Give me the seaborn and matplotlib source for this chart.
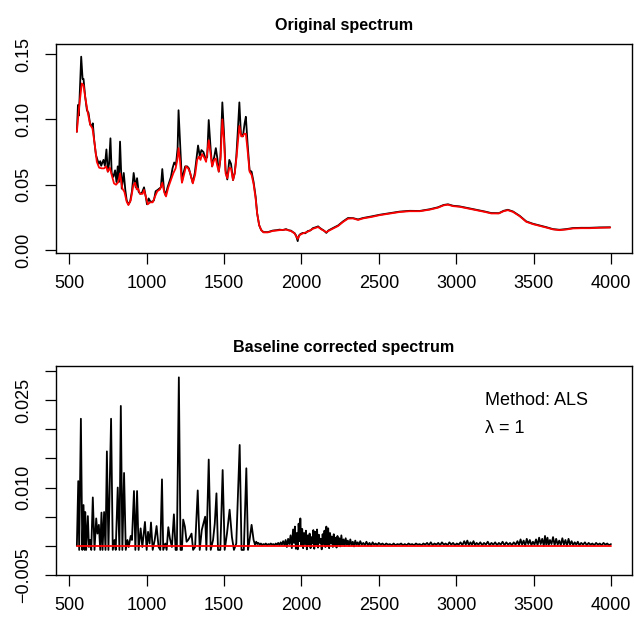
import matplotlib
matplotlib.use("Agg")
import matplotlib.pyplot as plt
import seaborn as sns

# ---- top panel: original spectrum (black) and ALS baseline (red) ----
orig_x = [549, 556, 562, 577, 586, 592, 603, 614, 624, 635, 646, 652, 661, 672, 682,
          691, 700, 706, 721, 730, 740, 749, 757, 766, 774, 785, 796, 805, 813, 820,
          828, 839, 852, 862, 871, 882, 893, 905, 916, 929, 938, 948, 959, 970, 983,
          994, 1002, 1013, 1024, 1036, 1047, 1058, 1071, 1082, 1092, 1101, 1112, 1122,
          1135, 1146, 1157, 1167, 1178, 1189, 1200, 1206, 1215, 1228, 1238, 1249, 1262,
          1273, 1285, 1298, 1311, 1322, 1332, 1343, 1354, 1367, 1380, 1391, 1401, 1414,
          1423, 1436, 1447, 1457, 1466, 1476, 1489, 1500, 1510, 1521, 1534, 1545, 1558,
          1569, 1579, 1588, 1599, 1609, 1622, 1633, 1641, 1652, 1665, 1678, 1691,
          1704, 1714, 1727, 1740, 1755, 1783, 1815, 1840, 1858, 1880, 1901, 1915, 1933,
          1945, 1955, 1965, 1976, 1982, 1989, 1998, 2009, 2025, 2041, 2058, 2075, 2090,
          2108, 2118, 2129, 2145, 2161, 2175, 2194, 2215, 2237, 2269, 2301, 2334, 2366,
          2398, 2452, 2506, 2570, 2635, 2699, 2764, 2829, 2882, 2919, 2947, 2979, 3022,
          3076, 3130, 3184, 3227, 3276, 3306, 3334, 3367, 3410, 3453, 3496, 3539, 3582,
          3625, 3668, 3711, 3754, 3808, 3862, 3926, 3995]
orig_y = [0.0905, 0.111, 0.103, 0.148, 0.131, 0.131, 0.117, 0.107, 0.105, 0.096, 0.095,
          0.097, 0.084, 0.073, 0.069, 0.066, 0.068, 0.0645, 0.069, 0.0645, 0.077, 0.060,
          0.066, 0.0855, 0.0587, 0.056, 0.061, 0.052, 0.064, 0.052, 0.083, 0.047, 0.059,
          0.046, 0.038, 0.035, 0.037, 0.045, 0.059, 0.048, 0.055, 0.0446, 0.043, 0.044,
          0.048, 0.041, 0.035, 0.0395, 0.037, 0.037, 0.038, 0.045, 0.046, 0.047, 0.048,
          0.062, 0.046, 0.042, 0.048, 0.052, 0.056, 0.0625, 0.067, 0.065, 0.078, 0.107,
          0.084, 0.052, 0.059, 0.064, 0.064, 0.0625, 0.057, 0.0515, 0.059, 0.070, 0.080,
          0.072, 0.0765, 0.075, 0.070, 0.071, 0.0995, 0.0765, 0.064, 0.071, 0.078, 0.070,
          0.060, 0.069, 0.113, 0.089, 0.061, 0.054, 0.069, 0.066, 0.0535, 0.059, 0.071,
          0.089, 0.113, 0.089, 0.087, 0.097, 0.102, 0.0815, 0.061, 0.060, 0.052,
          0.041, 0.028, 0.019, 0.0153, 0.0137, 0.0137, 0.0149, 0.0152, 0.0156, 0.0153,
          0.016, 0.0152, 0.0148, 0.0137, 0.013, 0.0112, 0.0068, 0.0105, 0.0118, 0.0125,
          0.0131, 0.0128, 0.0145, 0.015, 0.0168, 0.0173, 0.0181, 0.017, 0.0161, 0.0149,
          0.0131, 0.015, 0.0162, 0.0175, 0.0188, 0.0219, 0.0245, 0.0244, 0.0234, 0.0245,
          0.0257, 0.0270, 0.0282, 0.0294, 0.0300, 0.0299, 0.0312, 0.0327, 0.0345, 0.0350,
          0.0339, 0.0334, 0.0321, 0.0308, 0.0295, 0.0283, 0.0282, 0.0300, 0.0308, 0.0295,
          0.0262, 0.0219, 0.0201, 0.0188, 0.0175, 0.0160, 0.0155, 0.0160, 0.0168, 0.0170,
          0.0170, 0.0173, 0.0174]

base_x = [549, 564, 581, 592, 603, 618, 635, 650, 663, 678, 693, 710, 725, 738, 749,
          762, 774, 789, 802, 817, 828, 843, 856, 871, 882, 897, 914, 925, 936, 944,
          957, 974, 983, 994, 1007, 1022, 1039, 1054, 1069, 1086, 1101, 1114, 1125,
          1140, 1155, 1172, 1187, 1198, 1206, 1215, 1228, 1241, 1254, 1269, 1282, 1298,
          1313, 1326, 1337, 1348, 1358, 1371, 1384, 1401, 1414, 1423, 1436, 1447, 1455,
          1466, 1478, 1489, 1500, 1510, 1521, 1534, 1545, 1558, 1569, 1581, 1599, 1611,
          1620, 1631, 1641, 1652, 1665, 1678, 1691,
          1704, 1714, 1727, 1740, 1755, 1783, 1815, 1858, 1901, 1933, 1955, 1976, 1989,
          2009, 2041, 2075, 2108, 2129, 2161, 2194, 2237, 2269, 2301, 2334, 2366, 2398,
          2452, 2506, 2570, 2635, 2699, 2764, 2829, 2882, 2919, 2947, 2979, 3022, 3076,
          3130, 3184, 3227, 3276, 3306, 3334, 3367, 3410, 3453, 3496, 3539, 3582, 3625,
          3668, 3711, 3754, 3808, 3862, 3926, 3995]
base_y = [0.0905, 0.110, 0.1275, 0.126, 0.117, 0.106, 0.096, 0.093, 0.082, 0.0675,
          0.063, 0.0625, 0.0625, 0.064, 0.060, 0.063, 0.0575, 0.051, 0.050, 0.052,
          0.0587, 0.047, 0.0446, 0.037, 0.0344, 0.038, 0.0497, 0.0515, 0.0464, 0.047,
          0.043, 0.043, 0.046, 0.041, 0.035, 0.0365, 0.0365, 0.041, 0.045, 0.0464,
          0.0515, 0.044, 0.041, 0.048, 0.053, 0.0587, 0.0625, 0.069, 0.078, 0.069,
          0.0515, 0.0575, 0.064, 0.0625, 0.0587, 0.051, 0.0575, 0.069, 0.0715, 0.069,
          0.0735, 0.071, 0.0675, 0.084, 0.0727, 0.064, 0.069, 0.070, 0.065, 0.060,
          0.0715, 0.100, 0.084, 0.0587, 0.055, 0.063, 0.0625, 0.0535, 0.0587, 0.0715,
          0.095, 0.087, 0.087, 0.089, 0.089, 0.0765, 0.060, 0.0575, 0.0505,
          0.0395, 0.028, 0.019, 0.0153, 0.0135, 0.0135, 0.0146, 0.0152, 0.0156, 0.0145,
          0.0128, 0.0085, 0.0115, 0.0127, 0.014, 0.0163, 0.0176, 0.0158, 0.0137, 0.0158,
          0.0184, 0.0215, 0.0240, 0.0242, 0.0230, 0.0242, 0.0253, 0.0267, 0.0279, 0.0291,
          0.0297, 0.0297, 0.0309, 0.0324, 0.0342, 0.0347, 0.0336, 0.0331, 0.0318, 0.0305,
          0.0292, 0.0280, 0.0280, 0.0297, 0.0305, 0.0292, 0.0259, 0.0216, 0.0198, 0.0185,
          0.0172, 0.0158, 0.0152, 0.0157, 0.0165, 0.0167, 0.0167, 0.0170, 0.0172]

# ---- bottom panel: corrected spectrum (black) and zero baseline (red) ----
corr_x = [549, 558, 564, 575, 584, 592, 599, 603, 609, 620, 627, 635, 642, 652, 663,
          674, 682, 691, 700, 708, 715, 725, 734, 743, 753, 770, 781, 792, 800, 813,
          824, 833, 843, 854, 865, 876, 884, 897, 905, 918, 927, 938, 948, 961, 972,
          989, 1000, 1009, 1019, 1028, 1039, 1052, 1064, 1077, 1088, 1099, 1107, 1120,
          1129, 1140, 1150, 1163, 1176, 1187, 1195, 1208, 1219, 1228, 1236, 1247, 1258,
          1268, 1279, 1290, 1300, 1313, 1330, 1343, 1356, 1369, 1378, 1386, 1401, 1414,
          1429, 1440, 1451, 1461, 1476, 1491, 1504, 1519, 1536, 1551, 1564, 1579, 1601,
          1613, 1628, 1644, 1655, 1665, 1678, 1691, 1700, 1708,
          1715, 1722, 1730, 1738, 1746, 1754, 1762, 1770, 1778, 1786, 1794, 1802, 1810,
          1818, 1826, 1834, 1842, 1850, 1858, 1866, 1874, 1882, 1890, 1898, 1906, 1914,
          1922, 1930, 1938, 1946, 1952, 1958, 1964, 1970, 1976, 1982, 1988, 1993, 1999,
          2005, 2011, 2017, 2023, 2029, 2035, 2041, 2047, 2053, 2059, 2065, 2071, 2077,
          2083, 2089, 2095, 2101, 2107, 2113, 2119, 2125, 2131, 2137, 2143, 2149, 2155,
          2161, 2167, 2173, 2179, 2185, 2191, 2197, 2203, 2209, 2215, 2221, 2227, 2233,
          2239, 2245, 2251, 2258, 2265, 2272, 2279, 2286, 2293, 2300, 2308, 2316, 2324,
          2332, 2340, 2348, 2356, 2364, 2372, 2380, 2390, 2400, 2410, 2420, 2430, 2440,
          2450, 2460, 2470, 2480, 2490, 2500, 2512, 2524, 2536, 2548, 2560, 2572, 2584,
          2596, 2608, 2620, 2632, 2644, 2656, 2668, 2680, 2692, 2704, 2716, 2728, 2740,
          2752, 2764, 2776, 2788, 2800, 2812, 2824, 2836, 2848, 2860, 2872, 2884, 2896,
          2908, 2920, 2932, 2944, 2956, 2968, 2980, 2992, 3004, 3016, 3028, 3040, 3052,
          3062, 3072, 3082, 3092, 3102, 3112, 3122, 3132, 3144, 3156, 3168, 3180, 3192,
          3204, 3216, 3228, 3240, 3252, 3264, 3276, 3288, 3300, 3312, 3324, 3336, 3348,
          3360, 3372, 3384, 3396, 3406, 3416, 3426, 3436, 3446, 3456, 3466, 3476, 3486,
          3496, 3506, 3516, 3526, 3536, 3546, 3556, 3566, 3574, 3582, 3590, 3598, 3606,
          3616, 3626, 3636, 3646, 3656, 3666, 3676, 3686, 3696, 3706, 3716, 3726, 3736,
          3746, 3756, 3766, 3776, 3786, 3796, 3808, 3820, 3832, 3844, 3856, 3868, 3880,
          3892, 3904, 3916, 3928, 3940, 3952, 3964, 3976, 3988, 4000]
corr_y = [0.0, 0.0111, -0.0007, 0.0218, -0.0007, 0.0070, -0.0007, 0.0058, -0.0007,
          0.0051, -0.0002, 0.001, -0.0007, 0.0083, -0.0007, 0.0047, 0.0021, 0.0036,
          -0.0007, 0.0057, -0.0007, 0.0058, -0.0007, 0.0162, -0.0007, 0.0218, -0.0007,
          0.001, -0.0007, 0.010, -0.0007, 0.024, -0.0007, 0.0125, -0.0007, 0.001,
          -0.0002, 0.0017, 0.001, 0.0094, -0.0007, 0.0094, -0.0007, 0.003, -0.0002,
          0.0041, -0.0007, 0.0024, 0.0004, 0.004, -0.0007, 0.001, 0.0034, -0.0002,
          -0.0007, 0.0114, -0.0007, 0.0004, -0.0007, 0.0032, 0.0013, -0.0002, 0.0054,
          -0.0007, -0.0007, 0.0289, -0.0007, -0.0007, 0.0045, 0.0033, 0.0007, 0.001,
          0.0015, 0.0021, -0.0007, -0.0002, 0.0095, -0.0007, 0.0027, 0.0041, 0.005,
          -0.0007, 0.0148, -0.0007, 0.001, 0.0038, 0.009, -0.0007, -0.0007, 0.013,
          -0.0007, 0.0021, 0.0062, 0.0015, -0.0007, 0.0004, 0.0173, -0.0007, -0.0007,
          0.0133, -0.0007, 0.001, 0.0036, 0.001, 0.0002, 0.0007,
          0.0003, 0.0005, 0.0002, 0.0004, 0.0001, 0.0003, 0.0002, 0.0004, 0.0001, 0.0003,
          0.0002, 0.0004, 0.0002, 0.0003, 0.0001, 0.0004, 0.0002, 0.0005, 0.0001, 0.0006,
          0.0002, 0.0008, 0.0001, 0.0010, -0.0002, 0.0012, 0.0003, 0.0018, -0.0004,
          0.0028, 0.0005, 0.0033, -0.0005, 0.0022, -0.0006, 0.0038, 0.0008, 0.0047,
          0.0001, 0.0029, -0.0004, 0.0022, 0.0003, 0.0026, -0.0006, 0.0018, 0.0002,
          0.0021, -0.0004, 0.0015, 0.0004, 0.0027, -0.0005, 0.0024, 0.0002, 0.0028,
          -0.0003, 0.0019, 0.0005, 0.0012, -0.0006, 0.0020, 0.0003, 0.0026, -0.0002,
          0.0033, 0.0000, 0.0030, -0.0004, 0.0022, 0.0004, 0.0016, -0.0002, 0.0020,
          0.0001, 0.0014, -0.0003, 0.0017, 0.0002, 0.0013, -0.0001, 0.0018, 0.0002,
          0.0011, 0.0000, 0.0013, 0.0002, 0.0009, 0.0000, 0.0011, 0.0001, 0.0007,
          -0.0001, 0.0009, 0.0002, 0.0006, 0.0000, 0.0008, 0.0002, 0.0005, 0.0001,
          0.0007, 0.0001, 0.0005, 0.0000, 0.0006, 0.0002, 0.0004, 0.0001, 0.0005,
          0.0002, 0.0004, 0.0001, 0.0004, 0.0002, 0.0003, 0.0001, 0.0004, 0.0001,
          0.0003, 0.0002, 0.0004, 0.0001, 0.0003, 0.0001, 0.0004, 0.0002, 0.0003,
          0.0001, 0.0004, 0.0002, 0.0003, 0.0001, 0.0004, 0.0002, 0.0005, 0.0001,
          0.0006, 0.0001, 0.0004, 0.0002, 0.0005, 0.0001, 0.0006, 0.0002, 0.0004,
          0.0001, 0.0006, 0.0002, 0.0005, 0.0001, 0.0004, 0.0002, 0.0006, 0.0001,
          0.0008, 0.0002, 0.0009, 0.0001, 0.0006, 0.0002, 0.0008, 0.0001, 0.0005,
          0.0002, 0.0006, 0.0001, 0.0005, 0.0002, 0.0007, 0.0001, 0.0005, 0.0002,
          0.0006, 0.0001, 0.0005, 0.0002, 0.0007, 0.0001, 0.0006, 0.0002, 0.0005,
          0.0001, 0.0006, 0.0002, 0.0008, 0.0001, 0.0011, 0.0002, 0.0009, 0.0000,
          0.0012, 0.0003, 0.0010, 0.0001, 0.0007, 0.0002, 0.0011, 0.0001, 0.0014,
          0.0003, 0.0012, 0.0000, 0.0017, 0.0002, 0.0014, 0.0001, 0.0010, 0.0003,
          0.0015, 0.0001, 0.0012, 0.0002, 0.0009, 0.0001, 0.0013, 0.0002, 0.0010,
          0.0000, 0.0012, 0.0002, 0.0008, 0.0001, 0.0006, 0.0002, 0.0007, 0.0001,
          0.0005, 0.0002, 0.0006, 0.0001, 0.0005, 0.0002, 0.0004, 0.0001, 0.0005,
          0.0002, 0.0004, 0.0001, 0.0005, 0.0002, 0.0004, 0.0001, 0.0003]
zero_x = [549, 4000]
zero_y = [0.0, 0.0]

x_ticks = [500, 1000, 1500, 2000, 2500, 3000, 3500, 4000]
top_yticks = [0.00, 0.05, 0.10, 0.15]
top_ylabels = ["0.00", "0.05", "0.10", "0.15"]
bot_yticks = [-0.005, 0.0, 0.005, 0.010, 0.015, 0.020, 0.025, 0.030]
bot_ylabels = ["\u22120.005", "", "", "0.010", "", "", "0.025", ""]

sns.set_theme(style="ticks")
plt.rcParams["font.family"] = ["Liberation Sans", "DejaVu Sans"]
plt.rcParams["text.color"] = "black"
plt.rcParams["axes.labelcolor"] = "black"

fig = plt.figure(figsize=(6.34, 6.17), dpi=100)
ax1 = fig.add_axes([0.0878, 0.5895, 0.9095, 0.3398])
ax2 = fig.add_axes([0.0878, 0.0681, 0.9095, 0.3392])

lw = 1.3
sns.lineplot(x=orig_x, y=orig_y, ax=ax1, color="black", lw=lw, sort=False, estimator=None)
sns.lineplot(x=base_x, y=base_y, ax=ax1, color="#ff0000", lw=lw, sort=False, estimator=None)
sns.lineplot(x=corr_x, y=corr_y, ax=ax2, color="black", lw=lw, sort=False, estimator=None)
sns.lineplot(x=zero_x, y=zero_y, ax=ax2, color="#ff0000", lw=lw, sort=False, estimator=None)

ax1.set_ylim(-0.0025, 0.158)
ax2.set_ylim(-0.005, 0.0309)
ax1.set_yticks(top_yticks)
ax1.set_yticklabels(top_ylabels, rotation=90, va="center")
ax2.set_yticks(bot_yticks)
ax2.set_yticklabels(bot_ylabels, rotation=90, va="center")

for ax, title in [(ax1, "Original spectrum"), (ax2, "Baseline corrected spectrum")]:
    ax.set_xlim(412, 4138)
    ax.set_xticks(x_ticks)
    ax.set_xticklabels([str(t) for t in x_ticks])
    ax.set_title(title, fontsize=11.6, fontweight="bold", pad=10, color="black")
    ax.set_xlabel("")
    ax.set_ylabel("")
    for s in ax.spines.values():
        s.set_visible(True)
        s.set_color("black")
        s.set_linewidth(1.0)
    ax.tick_params(axis="both", direction="out", length=7.7, width=0.9,
                   color="black", labelsize=13, labelcolor="black")
    ax.tick_params(axis="x", pad=8)
    ax.tick_params(axis="y", pad=9)

ax2.text(3187, 0.0250, "Method: ALS", fontsize=13, ha="left", va="center", color="black")
ax2.text(3187, 0.0202, "\u03bb = 1", fontsize=13, ha="left", va="center", color="black")

fig.savefig("out.png", dpi=100)
